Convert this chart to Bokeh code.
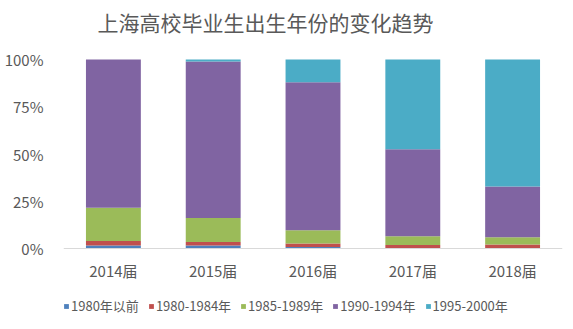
from bokeh.plotting import figure
from bokeh.models import Range1d, Legend, LegendItem, NumeralTickFormatter, FixedTicker, Label
from bokeh.embed import file_html
from bokeh.resources import INLINE

categories = ["2014届", "2015届", "2016届", "2017届", "2018届"]
series_names = ["1980年以前", "1980-1984年", "1985-1989年", "1990-1994年", "1995-2000年"]
s_before1980 = [0.016, 0.016, 0.008, 0.003, 0.003]
s_1980_1984 = [0.024, 0.019, 0.018, 0.016, 0.018]
s_1985_1989 = [0.175, 0.127, 0.071, 0.046, 0.039]
s_1990_1994 = [0.785, 0.828, 0.783, 0.460, 0.268]
s_1995_2000 = [0.000, 0.010, 0.120, 0.475, 0.672]
y_ticks = [0, 0.25, 0.5, 0.75, 1.0]
title_text = "上海高校毕业生出生年份的变化趋势"

colors = ["#4F81BD", "#C0504D", "#9BBB59", "#8064A2", "#4BACC6"]
keys = ["a", "b", "c", "d", "e"]
data = dict(x=categories, a=s_before1980, b=s_1980_1984, c=s_1985_1989, d=s_1990_1994, e=s_1995_2000)

FONT = "Noto Sans CJK SC"
TXT = "#595959"

# the frame covers the full page height: 0..1 occupies 189 px, with room above
# for the title and below for the category labels and legend
PX = 189.0
p = figure(x_range=categories, y_range=Range1d(-81 / PX, 1.0 + 59 / PX), frame_width=499, frame_height=329,
           output_backend="svg", toolbar_location=None,
           min_border_left=63, min_border_right=11, min_border_top=0, min_border_bottom=0)
p.outline_line_color = None
p.grid.visible = False

rs = p.vbar_stack(keys, x="x", width=0.55, color=colors, line_color=None, source=data)

p.add_layout(Label(x=0.34, y=1.0 + 38 / PX, text=title_text, text_font=FONT, text_font_size="21px",
                   text_color=TXT, text_align="left", text_baseline="middle"))

p.yaxis.ticker = FixedTicker(ticks=y_ticks)
p.yaxis.formatter = NumeralTickFormatter(format="0%")
p.yaxis.axis_line_color = None
p.yaxis.major_tick_line_color = None
p.yaxis.minor_tick_line_color = None
p.yaxis.major_label_text_font = FONT
p.yaxis.major_label_text_font_size = "15px"
p.yaxis.major_label_text_color = TXT
p.yaxis.major_label_standoff = 14

p.xaxis.fixed_location = 0
p.xaxis.axis_line_color = "#D9D9D9"
p.xaxis.major_tick_line_color = None
p.xaxis.minor_tick_line_color = None
p.xaxis.major_label_text_font = FONT
p.xaxis.major_label_text_font_size = "15px"
p.xaxis.major_label_text_color = TXT
p.xaxis.major_label_standoff = 5

legend = Legend(items=[LegendItem(label=n, renderers=[r]) for n, r in zip(series_names, rs)],
                orientation="horizontal", location=(0, 14),
                label_text_font=FONT, label_text_font_size="13px", label_text_color=TXT,
                glyph_width=6, glyph_height=6, label_standoff=2, spacing=9,
                label_height=14,
                border_line_color=None, background_fill_alpha=0, padding=0, margin=0)
p.add_layout(legend)

open("out.html", "w").write(file_html(p, INLINE))
